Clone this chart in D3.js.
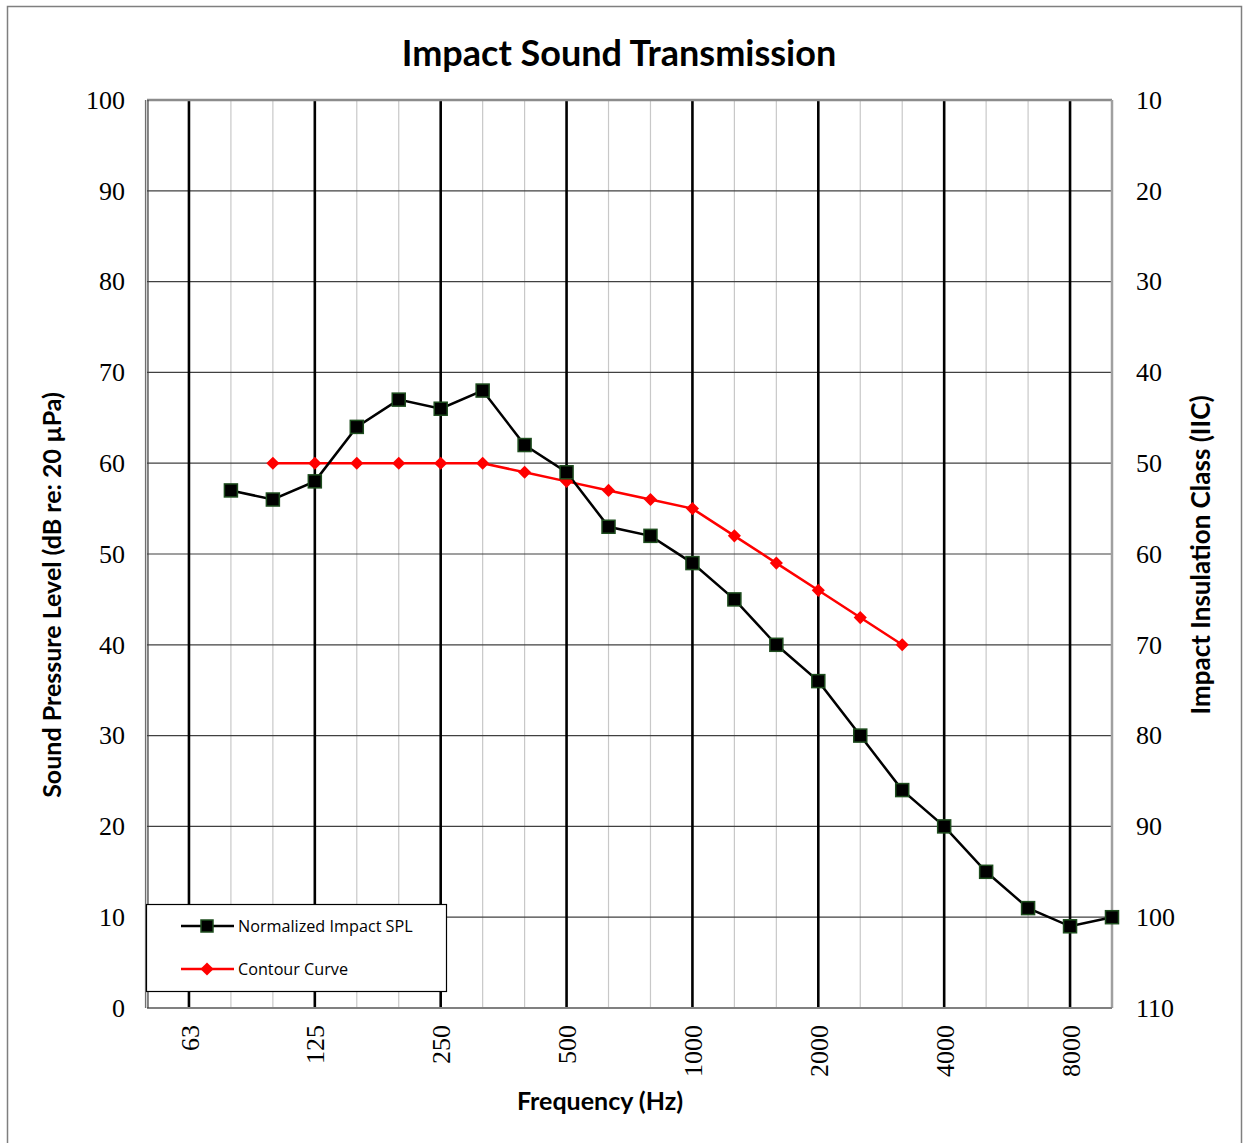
<!DOCTYPE html>
<html><head><meta charset="utf-8">
<script src="https://cdn.jsdelivr.net/npm/d3@7"></script>
<style>body{margin:0;background:#fff}svg{display:block}
.serif text{font-family:"Liberation Serif","DejaVu Serif",serif !important;}
</style>
</head><body>
<svg id="c" width="1243" height="1143"></svg>
<script>
const bands = ["50","63","80","100","125","160","200","250","315","400","500","630","800","1000","1250","1600","2000","2500","3150","4000","5000","6300","8000","10000"];
const octaveLabels = ["63","125","250","500","1000","2000","4000","8000"];
const splBands = ["80","100","125","160","200","250","315","400","500","630","800","1000","1250","1600","2000","2500","3150","4000","5000","6300","8000","10000"];
const splValues = [57,56,58,64,67,66,68,62,59,53,52,49,45,40,36,30,24,20,15,11,9,10];
const contourBands = ["100","125","160","200","250","315","400","500","630","800","1000","1250","1600","2000","2500","3150"];
const contourValues = [60,60,60,60,60,60,59,58,57,56,55,52,49,46,43,40];
const leftTicks = [0,10,20,30,40,50,60,70,80,90,100];
const rightTicks = [10,20,30,40,50,60,70,80,90,100,110];

const svg = d3.select("#c");
const L = 147, R = 1112, T = 100, B = 1008;
const x = d3.scalePoint().domain(bands).range([L, R]);
const y = d3.scaleLinear().domain([0,100]).range([B, T]);
const y2 = d3.scaleLinear().domain([110,10]).range([B, T]);

// outer border
svg.append("rect").attr("x",7.5).attr("y",6.5).attr("width",1234).attr("height",1145)
  .attr("fill","none").attr("stroke","#7f7f7f").attr("stroke-width",1.5);

const sans = "Lato, 'Open Sans', sans-serif";
// title
svg.append("text").attr("x",619).attr("y",66).attr("text-anchor","middle")
  .attr("font-family",sans).attr("font-weight","bold")
  .attr("font-size",36).text("Impact Sound Transmission");

// minor vertical grid
const minor = bands.filter(b => !octaveLabels.includes(b));
svg.append("g").selectAll("line").data(minor).join("line")
  .attr("x1",d=>x(d)).attr("x2",d=>x(d)).attr("y1",T).attr("y2",B)
  .attr("stroke","#c8c8c8").attr("stroke-width",1.2);

// horizontal grid
svg.append("g").selectAll("line").data(leftTicks).join("line")
  .attr("x1",L).attr("x2",R).attr("y1",d=>y(d)).attr("y2",d=>y(d))
  .attr("stroke","#404040").attr("stroke-width",1.2);

// major vertical lines
svg.append("g").selectAll("line").data(octaveLabels).join("line")
  .attr("x1",d=>x(d)).attr("x2",d=>x(d)).attr("y1",T).attr("y2",B)
  .attr("stroke","#000").attr("stroke-width",2.6);

// frame
svg.append("line").attr("x1",L).attr("x2",R).attr("y1",T).attr("y2",T).attr("stroke","#8c8c8c").attr("stroke-width",2.5);
svg.append("line").attr("x1",R).attr("x2",R).attr("y1",T).attr("y2",B).attr("stroke","#a0a0a0").attr("stroke-width",2.5);
svg.append("line").attr("x1",L).attr("x2",R).attr("y1",B).attr("y2",B).attr("stroke","#808080").attr("stroke-width",2);
svg.append("line").attr("x1",L-1.5).attr("x2",L-1.5).attr("y1",T).attr("y2",B).attr("stroke","#707070").attr("stroke-width",1.2);
svg.append("line").attr("x1",L+1).attr("x2",L+1).attr("y1",T).attr("y2",B).attr("stroke","#404040").attr("stroke-width",1.2);

// axes text
const serif = "'Liberation Serif', 'DejaVu Serif', serif";
const leftAxis = d3.axisLeft(y).tickValues(leftTicks).tickSize(0).tickPadding(22);
const gl = svg.append("g").attr("class","serif").attr("transform",`translate(${L},0)`).call(leftAxis)
  .attr("font-family",serif).attr("font-size",26);
gl.select(".domain").remove();
gl.selectAll("text").style("font-family",serif).style("font-size","26px").attr("fill","#000");

const rightAxis = d3.axisRight(y2).tickValues(rightTicks).tickSize(0).tickPadding(24);
const gr = svg.append("g").attr("class","serif").attr("transform",`translate(${R},0)`).call(rightAxis)
  .attr("font-family",serif).attr("font-size",26);
gr.select(".domain").remove();
gr.selectAll("text").style("font-family",serif).style("font-size","26px").attr("fill","#000");

const bottomAxis = d3.axisBottom(x).tickValues(octaveLabels).tickSize(0);
const gb = svg.append("g").attr("class","serif").attr("transform",`translate(0,${B})`).call(bottomAxis)
  .attr("font-family",serif).attr("font-size",26);
gb.select(".domain").remove();
gb.selectAll("text").style("font-family",serif).style("font-size","26px").attr("fill","#000")
  .attr("text-anchor","end").attr("dy","0.35em")
  .attr("transform","translate(0,17) rotate(-90)").attr("x",0).attr("y",0);

svg.append("text").attr("transform","translate(61,595) rotate(-90)").attr("text-anchor","middle")
  .attr("font-family",sans).attr("font-weight","bold").attr("font-size",25)
  .text("Sound Pressure Level (dB re: 20 µPa)");
svg.append("text").attr("transform","translate(1210,555) rotate(-90)").attr("text-anchor","middle")
  .attr("font-family",sans).attr("font-weight","bold").attr("font-size",26)
  .text("Impact Insulation Class (IIC)");
svg.append("text").attr("x",600).attr("y",1110).attr("text-anchor","middle")
  .attr("font-family",sans).attr("font-weight","bold").attr("font-size",25)
  .text("Frequency (Hz)");

// series
const splData = splBands.map((b,i)=>({b, v: splValues[i]}));
const conData = contourBands.map((b,i)=>({b, v: contourValues[i]}));
const line = d3.line().x(d=>x(d.b)).y(d=>y(d.v));

svg.append("path").datum(conData).attr("d",line).attr("fill","none").attr("stroke","#ff0000").attr("stroke-width",2.5);
svg.append("path").datum(splData).attr("d",line).attr("fill","none").attr("stroke","#000").attr("stroke-width",2.5);

const diamond = d3.symbol().type(d3.symbolDiamond2).size(110);
svg.append("g").selectAll("path").data(conData).join("path")
  .attr("transform",d=>`translate(${x(d.b)},${y(d.v)})`).attr("d",diamond).attr("fill","#ff0000");
svg.append("g").selectAll("rect").data(splData).join("rect")
  .attr("x",d=>x(d.b)-6.5).attr("y",d=>y(d.v)-6.5).attr("width",13).attr("height",13)
  .attr("fill","#000").attr("stroke","#1e4d1e").attr("stroke-width",1.5);

// legend
const lg = svg.append("g");
lg.append("rect").attr("x",146.5).attr("y",904.5).attr("width",300).attr("height",87)
  .attr("fill","#fff").attr("stroke","#000").attr("stroke-width",1.2);
lg.append("line").attr("x1",181).attr("x2",234).attr("y1",926).attr("y2",926).attr("stroke","#000").attr("stroke-width",2.5);
lg.append("rect").attr("x",201).attr("y",920).attr("width",12).attr("height",12).attr("fill","#000").attr("stroke","#1e4d1e").attr("stroke-width",1.5);
lg.append("line").attr("x1",181).attr("x2",234).attr("y1",969).attr("y2",969).attr("stroke","#ff0000").attr("stroke-width",2.5);
lg.append("path").attr("transform","translate(207,969)").attr("d",diamond).attr("fill","#ff0000");
lg.append("text").attr("x",238).attr("y",932).attr("font-family","'Open Sans', sans-serif").attr("font-size",16.2).text("Normalized Impact SPL");
lg.append("text").attr("x",238).attr("y",975).attr("font-family","'Open Sans', sans-serif").attr("font-size",16.2).text("Contour Curve");
</script>
</body></html>
